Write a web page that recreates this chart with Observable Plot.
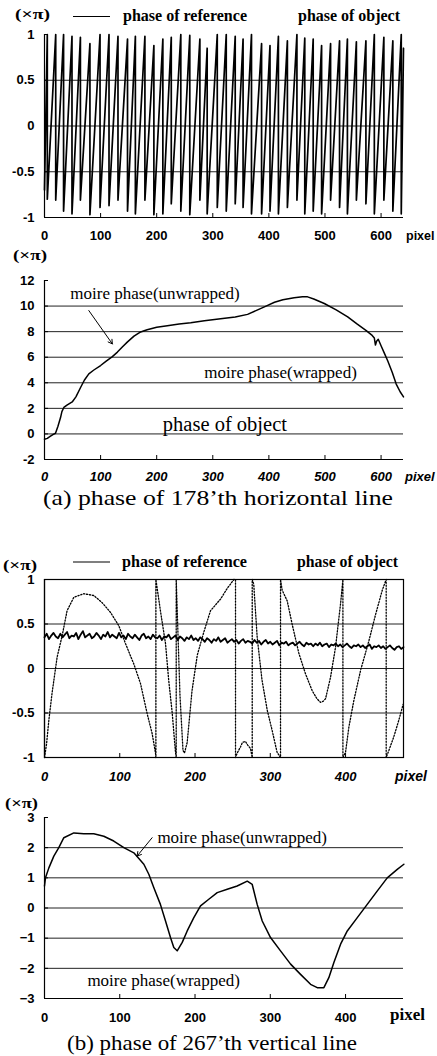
<!DOCTYPE html>
<html><head><meta charset="utf-8">
<script src="https://cdn.jsdelivr.net/npm/d3@7"></script>
<script src="https://cdn.jsdelivr.net/npm/@observablehq/plot@0.6"></script>
<style>
body{margin:0;background:#fff;width:437px;height:1056px;position:relative;overflow:hidden;}
.panel{position:absolute;left:0;}
svg{overflow:visible;}
</style></head><body>
<script>
// ================= DATA =================
// (a) upper panel: phase of reference, wrapped (x: pixel, y: ×π)
const aRefPeakX = [5,20,34,49,64,81,99,115,131,148,162,179,195,211,226,243,259,277,290,308,324,340,354,369,387,402,417,433,450,464,479,494,510,526,540,556,573,588,605,621,636,640];
const aRefPeak = [1.0,1.0,1.0,0.98,0.97,0.9,1.0,1.0,0.98,0.95,0.98,0.98,0.88,0.95,0.97,1.0,0.99,0.95,0.85,1.0,1.0,0.98,0.95,1.0,0.9,0.88,0.98,0.93,1.0,0.96,0.95,0.88,0.9,0.93,0.95,0.92,0.93,1.0,0.97,0.93,1.0,0.85];
const aRefTrough = [-0.7,-0.8,-0.81,-0.93,-0.96,-0.81,-0.97,-0.89,-0.87,-0.81,-0.93,-0.96,-0.81,-0.97,-0.96,-0.85,-0.93,-0.97,-0.81,-0.96,-0.89,-0.93,-0.85,-0.89,-0.96,-0.96,-0.93,-0.96,-0.89,-0.81,-0.96,-0.93,-0.96,-0.81,-0.89,-0.96,-0.81,-0.85,-0.96,-0.81,-0.93,-0.96];
const aXTicks = [0,100,200,300,400,500,600];
const aYTicks = [-1,-0.5,0,0.5,1];
const aGrid = [-0.5,0,0.5];

// (a) lower panel: moire phase (unwrapped)
const aMoireX = [0,5,10.7,15,19.6,24,28.6,31,34.5,40,49.4,56,64.3,71,79,88,100,110,121,130,138.7,148,159.5,170,183,200,219,240,260.7,285,314,340,362,380,395,410,425,445,460,469,480,498.8,520,540.5,557,573,583,588,590,592,595,600,606,612,620,627,634,640];
const aMoireY = [-0.42,-0.35,-0.18,-0.05,0.05,0.6,1.28,1.75,2.07,2.25,2.5,2.9,3.63,4.2,4.7,5.0,5.35,5.7,6.05,6.4,6.8,7.2,7.65,7.95,8.15,8.35,8.47,8.6,8.7,8.85,9.0,9.15,9.35,9.7,10.0,10.3,10.5,10.65,10.72,10.72,10.55,10.2,9.7,9.15,8.6,8.1,7.75,7.5,6.95,7.25,7.4,6.9,6.3,5.7,4.8,3.9,3.3,2.9];
const aMoireYTicks = [-2,0,2,4,6,8,10,12];
const aMoireGrid = [0,2,4,6,8,10];

// (b) upper panel: phase of reference (sampled every 3 pixels) and phase of object (wrapped)
const bRefStep = 3;
const bRef = [
  0.35,0.39,0.33,0.37,0.40,0.36,0.34,0.39,0.35,0.38,
  0.41,0.34,0.37,0.36,0.40,0.33,0.38,0.42,0.35,0.37,
  0.39,0.34,0.36,0.40,0.37,0.33,0.38,0.36,0.41,0.35,
  0.38,0.36,0.34,0.40,0.35,0.37,0.33,0.39,0.36,0.34,
  0.38,0.35,0.32,0.37,0.39,0.34,0.36,0.33,0.38,0.35,
  0.34,0.37,0.32,0.36,0.35,0.38,0.33,0.35,0.37,0.32,
  0.36,0.34,0.31,0.35,0.33,0.37,0.32,0.34,0.31,0.35,
  0.33,0.30,0.34,0.32,0.29,0.33,0.31,0.35,0.30,0.32,
  0.34,0.29,0.31,0.33,0.30,0.32,0.28,0.31,0.33,0.29,
  0.31,0.30,0.28,0.32,0.29,0.31,0.27,0.30,0.32,0.28,
  0.30,0.27,0.29,0.31,0.26,0.29,0.28,0.30,0.26,0.28,
  0.29,0.26,0.28,0.30,0.27,0.25,0.29,0.27,0.28,0.25,
  0.28,0.26,0.29,0.25,0.27,0.28,0.24,0.27,0.26,0.28,
  0.25,0.27,0.24,0.26,0.28,0.25,0.23,0.26,0.25,0.27,
  0.24,0.26,0.23,0.25,0.27,0.22,0.25,0.24,0.26,0.23,
  0.25,0.22,0.24,0.26,0.23,0.21,0.24,0.25,0.22,0.24];
const bObjX = [0,2.7,5.8,10,16.8,23.5,30,39,52,65.5,76.6,87.7,98.8,107.6,118.7,127.6,136.5,143,147.5,148,148,154,160.8,165,169.7,174,175,175,180,184,186,189.6,196,203,211.7,220.6,233.9,242.8,251.6,253.8,253.8,256,260.5,263,267,270,273.7,276,276,278,282.6,289,296,302.6,309,313.6,313.6,315.8,322.5,329,338,346.8,355.7,362,366.8,370,373.4,380,386.7,393.4,396.5,396.5,400,404.4,411,420,431,440,448.8,454,454,457.6,464,470.8,476.6];
const bObjY = [-1,-0.85,-0.58,-0.28,0.13,0.37,0.65,0.8,0.84,0.82,0.74,0.63,0.48,0.28,0.05,-0.17,-0.51,-0.73,-0.95,-1,1,0.65,0.28,-0.13,-0.5,-0.94,-1,1,-0.3,-0.92,-0.95,-0.83,-0.25,0.15,0.41,0.65,0.78,0.9,1.0,1,-1,-0.95,-0.88,-0.83,-0.82,-0.86,-0.9,-1,1,0.95,0.35,-0.13,-0.47,-0.7,-0.94,-1,1,0.88,0.76,0.5,0.17,-0.06,-0.25,-0.34,-0.38,-0.37,-0.34,-0.1,0.24,0.73,1,-1,-0.94,-0.66,-0.36,-0.02,0.31,0.61,0.88,1,-1,-0.92,-0.77,-0.58,-0.4];
const bXTicks = [0,100,200,300,400];
const bYTicks = [-1,-0.5,0,0.5,1];
const bGrid = [-0.5,0,0.5];

// (b) lower panel: moire phase (unwrapped)
const bMoireX = [0,1.3,5.8,12.4,19,25.7,39,52.2,65.5,78.8,92,105.4,118.7,132,138.6,145.3,154,160.8,167.4,171.8,176.3,183,189.6,198.4,207.3,218.3,229.5,242.8,256,269.4,276,282.6,289.3,300.3,313.6,327,340.2,353.5,362.4,371.2,377.8,384.5,393.4,402.3,415.6,428.8,442,455.4,468.7,477.5];
const bMoireY = [0.73,1.0,1.33,1.72,2.0,2.33,2.49,2.46,2.46,2.38,2.22,2.0,1.83,1.45,1.12,0.67,0.12,-0.43,-0.98,-1.31,-1.42,-1.14,-0.76,-0.32,0.07,0.29,0.51,0.62,0.73,0.89,0.78,0.12,-0.43,-0.98,-1.42,-1.86,-2.2,-2.53,-2.64,-2.64,-2.31,-1.81,-1.2,-0.76,-0.32,0.12,0.56,1.0,1.28,1.45];
const bMoireYTicks = [-3,-2,-1,0,1,2,3];
const bMoireGrid = [-2,-1,0,1,2];

// annotation texts
const aMoireNotes = [
  {x: 46, y: 11.0, text: "moire phase(unwrapped)", size: 17},
  {x: 285, y: 4.8, text: "moire phase(wrapped)", size: 17},
  {x: 211, y: 0.75, text: "phase of object", size: 20.5}
];
const aMoireArrow = [{x1: 79, y1: 9.65, x2: 121, y2: 7.04}];
const bMoireNotes = [
  {x: 150, y: 2.35, text: "moire phase(unwrapped)", size: 17},
  {x: 57, y: -2.42, text: "moire phase(wrapped)", size: 17}
];
const bMoireArrow = [{x1: 143, y1: 2.33, x2: 123, y2: 1.72}];

// ================= BUILD =================
const aRef = [{x: 0, y: aRefTrough[0]}];
aRefPeakX.forEach((x, i) => {
  aRef.push({x, y: aRefPeak[i]});
  if (i < aRefPeakX.length - 1) aRef.push({x, y: aRefTrough[i + 1]});
});
const aMoire = aMoireX.map((x, i) => ({x, y: aMoireY[i]}));
const bRefData = bRef.map((y, i) => ({x: i * bRefStep, y}));
const bObj = bObjX.map((x, i) => ({x, y: bObjY[i]}));
const bMoire = bMoireX.map((x, i) => ({x, y: bMoireY[i]}));

const SANS = "'Liberation Sans', Arial, sans-serif";
const SERIF = "'Liberation Serif', 'Times New Roman', serif";
const tickFont = {fontFamily: SANS, fontWeight: "bold", fontSize: 13};

function panel({top, height, mt, mb, xDomain, yDomain, xTicks, yTicks, grid, italicX, yFormat, marks, frame, pad = 14}) {
  const plotH = height - mt - mb, plotW = 437 - 44 - 34;
  const p = Plot.plot({
    width: 437, height, marginTop: mt, marginBottom: mb, marginLeft: 44, marginRight: 34,
    x: {domain: xDomain}, y: {domain: yDomain},
    style: {background: "transparent", color: "#000", overflow: "visible"},
    marks: [
      Plot.ruleY(grid, {y: d => d, stroke: "#222", strokeWidth: 1}),
      frame ? Plot.frame({stroke: "#000", strokeWidth: 1.2}) : null,
      Plot.ruleY([yDomain[0]], {stroke: "#000", strokeWidth: 1.2}),
      Plot.ruleX([xDomain[0]], {stroke: "#000", strokeWidth: 1.2}),
      Plot.tickX(xTicks, {x: d => d, insetTop: plotH - 4, stroke: "#000"}),
      Plot.tickY(yTicks, {y: d => d, insetRight: plotW - 4, stroke: "#000"}),
      ...marks,
      Plot.axisX({ticks: xTicks, tickSize: 0, tickPadding: pad, label: null, ...tickFont, fontStyle: italicX ? "italic" : "normal"}),
      Plot.axisY({ticks: yTicks, tickSize: 0, tickPadding: 10, label: null, tickFormat: yFormat, ...tickFont})
    ]
  });
  const div = document.createElement("div");
  div.className = "panel";
  div.style.top = top + "px";
  div.appendChild(p);
  document.body.appendChild(div);
}

const hyph = d => String(d);

panel({top: 20, height: 225, mt: 14, mb: 28, xDomain: [0, 640], yDomain: [-1, 1],
  xTicks: aXTicks, yTicks: aYTicks, grid: aGrid, italicX: false, yFormat: hyph, pad: 13,
  marks: [Plot.line(aRef, {x: "x", y: "y", stroke: "#000", strokeWidth: 1.7})]});

panel({top: 265, height: 225, mt: 15, mb: 31, xDomain: [0, 640], yDomain: [-2, 12],
  xTicks: aXTicks, yTicks: aMoireYTicks, grid: aMoireGrid, italicX: true, yFormat: hyph, pad: 12,
  marks: [
    Plot.line(aMoire, {x: "x", y: "y", stroke: "#000", strokeWidth: 1.5}),
    Plot.text(aMoireNotes, {x: "x", y: "y", text: "text", fontSize: d => d.size, textAnchor: "start", fontFamily: SERIF, fill: "#000"}),
    Plot.arrow(aMoireArrow, {x1: "x1", y1: "y1", x2: "x2", y2: "y2", stroke: "#000", strokeWidth: 1, headLength: 7})
  ]});

panel({top: 560, height: 230, mt: 19, mb: 33, xDomain: [0, 477], yDomain: [-1, 1],
  xTicks: bXTicks, yTicks: bYTicks, grid: bGrid, italicX: true, yFormat: hyph, frame: true,
  marks: [
    Plot.line(bObj, {x: "x", y: "y", stroke: "#000", strokeWidth: 1.3, strokeDasharray: "1.3,1.7"}),
    Plot.line(bRefData, {x: "x", y: "y", stroke: "#000", strokeWidth: 1.8})
  ]});

panel({top: 800, height: 230, mt: 17, mb: 32, xDomain: [0, 477], yDomain: [-3, 3],
  xTicks: bXTicks, yTicks: bMoireYTicks, grid: bMoireGrid, italicX: false, yFormat: d3.format("d"),
  marks: [
    Plot.line(bMoire, {x: "x", y: "y", stroke: "#000", strokeWidth: 1.5}),
    Plot.text(bMoireNotes, {x: "x", y: "y", text: "text", fontSize: d => d.size, textAnchor: "start", fontFamily: SERIF, fill: "#000"}),
    Plot.arrow(bMoireArrow, {x1: "x1", y1: "y1", x2: "x2", y2: "y2", stroke: "#000", strokeWidth: 1, headLength: 7})
  ]});

// ================= OVERLAY TEXT (titles, legends, units) =================
const overlayTexts = [
  {t: "(×π)", x: 15, y: 19, size: 15, fam: SERIF, w: "bold", len: 35},
  {t: "phase of reference", x: 123, y: 21, size: 16, fam: SERIF, w: "bold", len: 124},
  {t: "phase of object", x: 298, y: 21, size: 16, fam: SERIF, w: "bold", len: 102},
  {t: "pixel", x: 406, y: 240, size: 12.5, fam: SANS, w: "bold"},
  {t: "(×π)", x: 13, y: 260, size: 15, fam: SERIF, w: "bold", len: 34},
  {t: "pixel", x: 405, y: 481, size: 13, fam: SANS, w: "bold", st: "italic"},
  {t: "(a) phase of 178’th horizontal line", x: 43, y: 505, size: 21, fam: SERIF, w: "normal", len: 350},
  {t: "phase of reference", x: 122, y: 567, size: 16, fam: SERIF, w: "bold", len: 125},
  {t: "phase of object", x: 297, y: 567, size: 16, fam: SERIF, w: "bold", len: 101},
  {t: "(×π)", x: 3, y: 570, size: 14, fam: SERIF, w: "bold", len: 34},
  {t: "pixel", x: 395, y: 781, size: 14, fam: SANS, w: "bold", st: "italic"},
  {t: "(×π)", x: 5, y: 808, size: 15, fam: SERIF, w: "bold", len: 33},
  {t: "pixel", x: 390, y: 1020, size: 16, fam: SERIF, w: "bold", len: 35},
  {t: "(b) phase of 267’th vertical line", x: 67, y: 1050, size: 21, fam: SERIF, w: "normal", len: 290}
];
const legendLines = [{x1: 73, x2: 110, y: 16.5}, {x1: 73, x2: 110, y: 562}];

const ov = d3.select("body").append("svg")
  .attr("width", 437).attr("height", 1056)
  .style("position", "absolute").style("left", 0).style("top", 0);
ov.selectAll("line").data(legendLines).join("line")
  .attr("x1", d => d.x1).attr("x2", d => d.x2).attr("y1", d => d.y).attr("y2", d => d.y)
  .attr("stroke", "#000").attr("stroke-width", 1.2);
ov.selectAll("text").data(overlayTexts).join("text")
  .attr("x", d => d.x).attr("y", d => d.y)
  .attr("font-family", d => d.fam).attr("font-size", d => d.size)
  .attr("font-weight", d => d.w).attr("font-style", d => d.st || "normal")
  .attr("textLength", d => d.len || null).attr("lengthAdjust", "spacingAndGlyphs")
  .attr("fill", "#000")
  .text(d => d.t);
</script>
</body></html>
